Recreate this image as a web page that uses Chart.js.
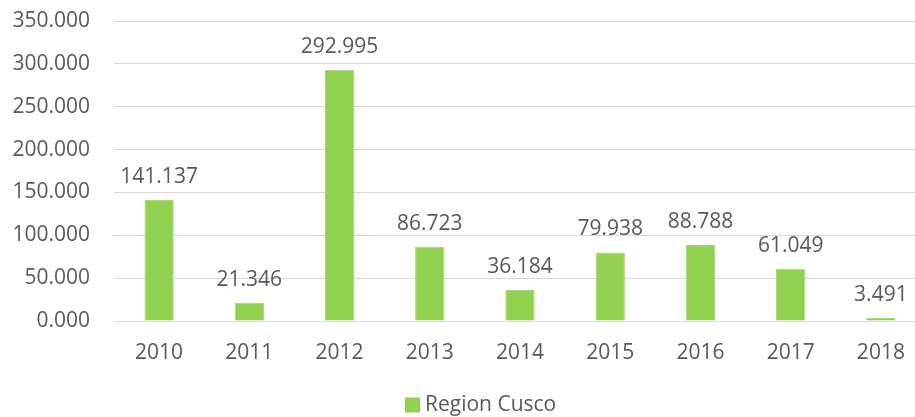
<!DOCTYPE html>
<html>
<head>
<meta charset="utf-8">
<script src="https://cdn.jsdelivr.net/npm/chart.js@4"></script>
<style>
  html, body { margin: 0; padding: 0; background: #fff; overflow: hidden; }
  #wrap { width: 930px; height: 417px; }
</style>
</head>
<body>
<div id="wrap"><canvas id="myChart"></canvas></div>
<script>
const years = ['2010', '2011', '2012', '2013', '2014', '2015', '2016', '2017', '2018'];
const cusco = [141.137, 21.346, 292.995, 86.723, 36.184, 79.938, 88.788, 61.049, 3.491];
const seriesName = 'Region Cusco';

const textColor = '#595959';
const barColor = '#92d050';
const fontFamily = '"Open Sans", sans-serif';
const fontSize = 21;

// value labels above the bars + legend under the axis
const barLabels = {
  id: 'barLabels',
  afterDatasetsDraw(chart) {
    const ctx = chart.ctx;
    const meta = chart.getDatasetMeta(0);
    ctx.save();
    ctx.font = fontSize + 'px ' + fontFamily;
    ctx.fillStyle = textColor;
    ctx.textAlign = 'center';
    ctx.textBaseline = 'alphabetic';
    meta.data.forEach((bar, i) => {
      ctx.fillText(cusco[i].toFixed(3), bar.x, bar.y - 17);
    });

    // legend
    const lx = 405, ly = 405;
    ctx.fillStyle = barColor;
    ctx.fillRect(lx, ly - 7.5, 15, 15);
    ctx.fillStyle = textColor;
    ctx.textAlign = 'left';
    ctx.textBaseline = 'middle';
    ctx.fillText(seriesName, lx + 20, ly);
    ctx.restore();
  }
};

const ctx = document.getElementById('myChart').getContext('2d');
new Chart(ctx, {
  type: 'bar',
  data: {
    labels: years,
    datasets: [{
      label: seriesName,
      data: cusco,
      backgroundColor: barColor,
      borderColor: '#a3d86d',
      borderWidth: 1,
      barPercentage: 0.325,
      categoryPercentage: 1
    }]
  },
  options: {
    responsive: true,
    maintainAspectRatio: false,
    animation: false,
    layout: { padding: { top: 21, left: 0, right: 4, bottom: 0 } },
    plugins: {
      tooltip: { enabled: false },
      legend: { display: false }
    },
    scales: {
      x: {
        grid: { display: false },
        border: { display: false },
        ticks: {
          color: textColor,
          font: { family: fontFamily, size: fontSize },
          padding: 11
        },
        afterFit(scale) { scale.height = 96; }
      },
      y: {
        min: 0,
        max: 350,
        grid: { color: '#d9d9d9', lineWidth: 1, drawTicks: false },
        border: { display: false },
        ticks: {
          stepSize: 50,
          color: textColor,
          font: { family: fontFamily, size: fontSize },
          padding: 24,
          callback: (v) => v.toFixed(3)
        },
        afterFit(scale) {
          scale.width = 114;
          scale.paddingTop = 0;
          scale.paddingBottom = 0;
        }
      }
    }
  },
  plugins: [barLabels]
});
</script>
</body>
</html>
